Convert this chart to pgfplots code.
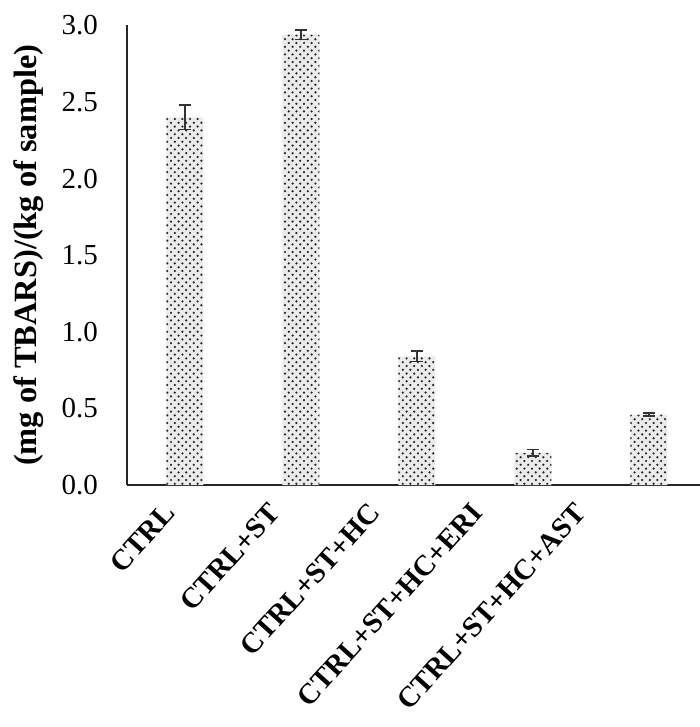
\documentclass[border=0pt]{standalone}
\usepackage{pgfplots}
\pgfplotsset{compat=1.18}
\usetikzlibrary{patterns}
\usepackage{fontspec}
\setmainfont{Liberation Serif}
\pgfdeclarepatternformonly{bigdots}{\pgfqpoint{-1pt}{-1pt}}{\pgfqpoint{5pt}{5pt}}{\pgfqpoint{3.8pt}{3.8pt}}{%
  \pgfpathcircle{\pgfqpoint{0pt}{0pt}}{0.62pt}%
  \pgfpathcircle{\pgfqpoint{1.9pt}{1.9pt}}{0.62pt}%
  \pgfusepath{fill}}
\begin{document}
\begin{tikzpicture}
\useasboundingbox (-63.5pt,-121pt) rectangle (286.5pt,242.5pt);
\begin{axis}[
  at={(0pt,0pt)}, anchor=south west,
  width=286.5pt, height=229.75pt, scale only axis,
  xmin=-0.5, xmax=4.44, ymin=0, ymax=3.0,
  axis x line=bottom, axis y line=left,
  axis line style={-, black!85, line width=0.9pt},
  xtick={-0.198,0.707,1.569,2.457,3.345},
  xticklabels={CTRL, CTRL+ST, CTRL+ST+HC, CTRL+ST+HC+ERI, CTRL+ST+HC+AST},
  x tick label style={yshift=-8pt, rotate=48, anchor=north east, font=\fontsize{14.5}{16}\selectfont\bfseries, inner sep=0pt},
  ytick={0,0.5,...,3.0},
  /pgf/number format/assume math mode=true,
  yticklabel style={/pgf/number format/fixed, /pgf/number format/fixed zerofill, /pgf/number format/precision=1, font=\fontsize{14.5}{16}\selectfont, xshift=-11pt},
  major tick length=0pt,
  ylabel={(mg of TBARS)/(kg of sample)},
  ylabel style={font=\fontsize{16.2}{18}\selectfont\bfseries, at={(axis description cs:0,0.5)}, anchor=center, yshift=49pt},
  ybar, bar width=18.5pt,
  clip=false,
]
\addplot[draw=none, fill=black!8, postaction={pattern=bigdots, pattern color=black!85},
  error bars/.cd, y dir=both, y explicit,
  error bar style={black!80, line width=0.7pt},
  error mark options={black!80, line width=0.7pt, mark size=3pt, rotate=90}]
  coordinates {
  (0,2.40) +- (0,0.08)
  (1,2.94) +- (0,0.03)
  (2,0.84) +- (0,0.035)
  (3,0.21) +- (0,0.02)
  (4,0.46) +- (0,0.01)
  };
\end{axis}
\end{tikzpicture}
\end{document}
